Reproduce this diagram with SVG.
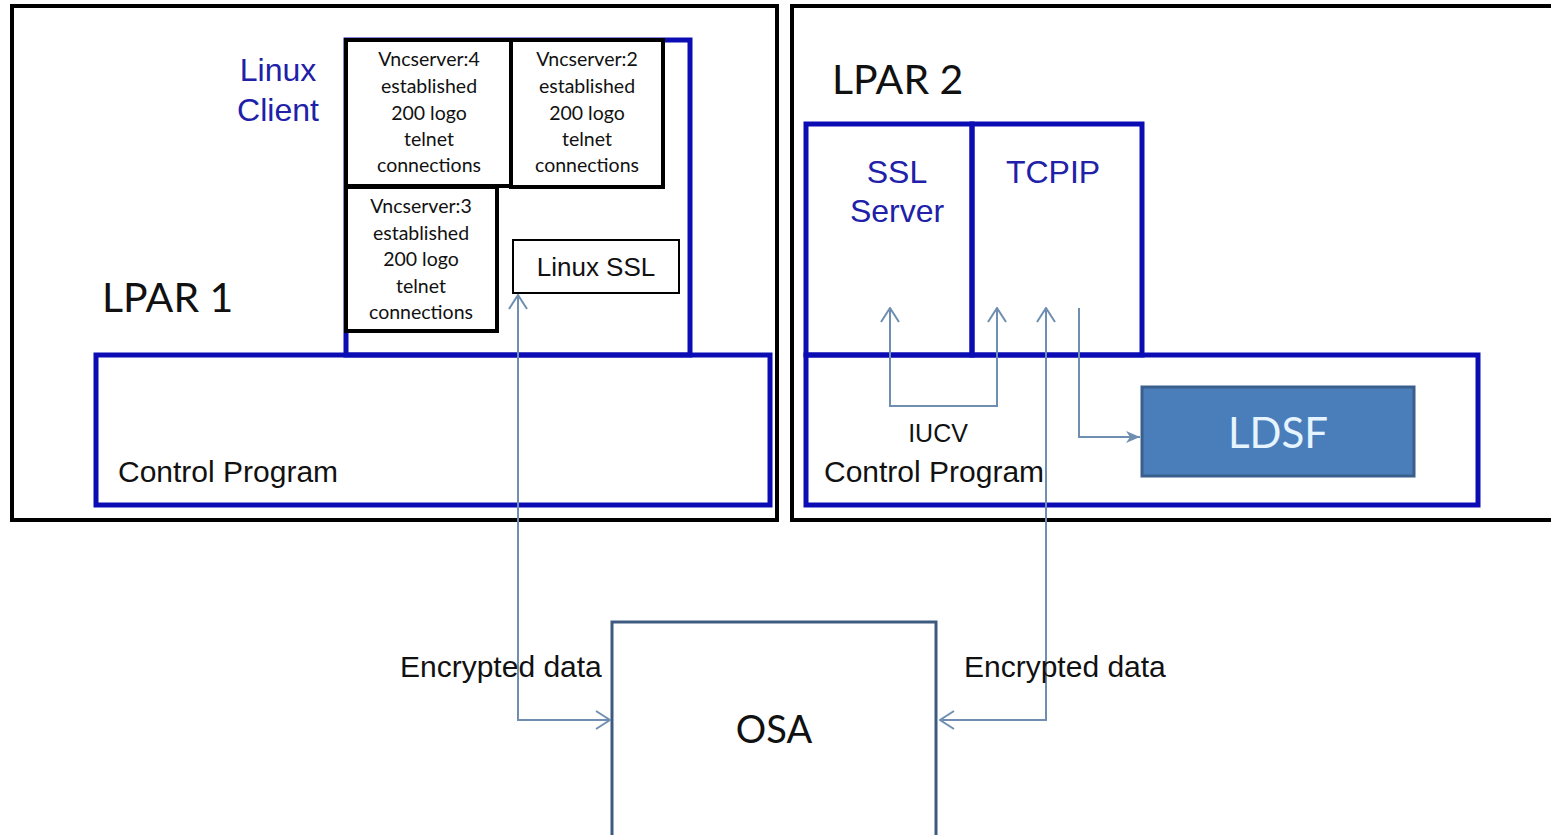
<svg xmlns="http://www.w3.org/2000/svg" width="1551" height="835" viewBox="0 0 1551 835">
<style>
.outer{fill:none;stroke:#000;stroke-width:4}
.blue{fill:none;stroke:#0c0cb4;stroke-width:5}
.vnc{fill:#fff;stroke:#000;stroke-width:4}
.conn{fill:none;stroke:#6f8fb0;stroke-width:2}
.ar{font-family:"Liberation Sans",Arial,sans-serif}
.cal{font-family:Lato,"Noto Sans",sans-serif}
.bt{fill:#2020a8}
.vt{font-family:Lato,"Noto Sans",sans-serif;font-size:19.5px;fill:#111;text-anchor:middle}
</style>
<defs>
<marker id="chev" viewBox="0 0 16 20" refX="15" refY="10" markerWidth="16" markerHeight="20" markerUnits="userSpaceOnUse" orient="auto-start-reverse">
<path d="M1,1 L15,10 L1,19" fill="none" stroke="#6f8fb0" stroke-width="2"/>
</marker>
<marker id="tri" viewBox="0 0 16 16" refX="15" refY="8" markerWidth="16" markerHeight="16" markerUnits="userSpaceOnUse" orient="auto">
<path d="M1,2 L15,8 L1,14 L5,8 Z" fill="#6f8fb0"/>
</marker>
</defs>
<rect width="1551" height="835" fill="#fff"/>
<g id="lpar1">
<rect class="outer" x="12" y="6" width="765" height="514"/>
<text class="cal" x="102" y="312" font-size="41" fill="#111">LPAR 1</text>
</g>
<g id="lpar2">
<rect class="outer" x="792" y="6" width="780" height="514"/>
<text class="cal" x="832" y="94" font-size="41" fill="#111">LPAR 2</text>
</g>
<g id="linux-client">
<rect class="blue" x="346" y="40" width="344" height="315"/>
<text class="ar bt" x="278" y="81" font-size="32" text-anchor="middle">Linux</text>
<text class="ar bt" x="278" y="121" font-size="32" text-anchor="middle">Client</text>
</g>
<g id="vnc4">
<rect class="vnc" x="346" y="40" width="165" height="146"/>
<text class="vt"><tspan x="429" y="66">Vncserver:4</tspan><tspan x="429" y="93">established</tspan><tspan x="429" y="120">200 logo</tspan><tspan x="429" y="146">telnet</tspan><tspan x="429" y="172">connections</tspan></text>
</g>
<g id="vnc2">
<rect class="vnc" x="511" y="40" width="152" height="147"/>
<text class="vt"><tspan x="587" y="66">Vncserver:2</tspan><tspan x="587" y="93">established</tspan><tspan x="587" y="120">200 logo</tspan><tspan x="587" y="146">telnet</tspan><tspan x="587" y="172">connections</tspan></text>
</g>
<g id="vnc3">
<rect class="vnc" x="346" y="187" width="151" height="144"/>
<text class="vt"><tspan x="421" y="213">Vncserver:3</tspan><tspan x="421" y="240">established</tspan><tspan x="421" y="266">200 logo</tspan><tspan x="421" y="293">telnet</tspan><tspan x="421" y="319">connections</tspan></text>
</g>
<g id="linux-ssl">
<rect x="513" y="240" width="166" height="53" fill="#fff" stroke="#000" stroke-width="2"/>
<text class="ar" x="596" y="276" font-size="26" fill="#111" text-anchor="middle">Linux SSL</text>
</g>
<g id="cp1">
<rect class="blue" x="96" y="355" width="674" height="150"/>
<text class="ar" x="118" y="482" font-size="30" fill="#111">Control Program</text>
</g>
<g id="ssl-server">
<rect class="blue" x="806" y="124" width="166" height="231"/>
<text class="ar bt" x="897" y="183" font-size="32" text-anchor="middle">SSL</text>
<text class="ar bt" x="897" y="222" font-size="32" text-anchor="middle">Server</text>
</g>
<g id="tcpip">
<rect class="blue" x="972" y="124" width="170" height="231"/>
<text class="ar bt" x="1053" y="183" font-size="32" text-anchor="middle">TCPIP</text>
</g>
<g id="cp2">
<rect class="blue" x="806" y="355" width="672" height="150"/>
<text class="ar" x="824" y="482" font-size="30" fill="#111">Control Program</text>
<text class="ar" x="938" y="442" font-size="25" fill="#111" text-anchor="middle">IUCV</text>
</g>
<g id="ldsf">
<rect x="1142" y="387" width="272" height="89" fill="#4a7ebb" stroke="#3b5f8c" stroke-width="3"/>
<text class="cal" x="1278" y="448" font-size="42" fill="#e6f4ff" text-anchor="middle">LDSF</text>
</g>
<g id="osa">
<rect x="612" y="622" width="324" height="220" fill="#fff" stroke="#3d5a80" stroke-width="3"/>
<text class="cal" x="774" y="743" font-size="38" fill="#111" text-anchor="middle">OSA</text>
</g>
<g id="connectors">
<path class="conn" d="M518,295 L518,720 L610,720" marker-start="url(#chev)" marker-end="url(#chev)"/>
<path class="conn" d="M1046,308 L1046,720 L940,720" marker-start="url(#chev)" marker-end="url(#chev)"/>
<path class="conn" d="M890,308 L890,406 L997,406 L997,308" marker-start="url(#chev)" marker-end="url(#chev)"/>
<path class="conn" d="M1079,308 L1079,437 L1140,437" marker-end="url(#tri)"/>
<text class="ar" x="400" y="677" font-size="30" fill="#111">Encrypted data</text>
<text class="ar" x="964" y="677" font-size="30" fill="#111">Encrypted data</text>
</g>
</svg>
